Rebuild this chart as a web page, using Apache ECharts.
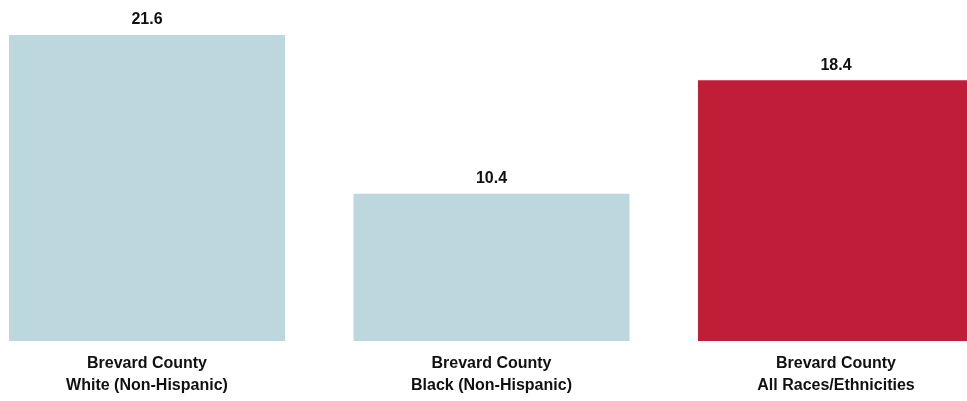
<!DOCTYPE html>
<html>
<head>
<meta charset="utf-8">
<script src="https://cdn.jsdelivr.net/npm/echarts@6/dist/echarts.min.js"></script>
<style>
  html, body { margin: 0; padding: 0; background: #ffffff; }
  #chart { width: 967px; height: 401px; }
</style>
</head>
<body>
<div id="chart"></div>
<script>
// Category labels and rates for each group
const categories = [
  'Brevard County\nWhite (Non-Hispanic)',
  'Brevard County\nBlack (Non-Hispanic)',
  'Brevard County\nAll Races/Ethnicities'
];
const values = [21.6, 10.4, 18.4];
const barColors = ['#BDD7DE', '#BDD7DE', '#C01D39'];

const FONT = '"Liberation Sans", Arial, sans-serif';

const chart = echarts.init(document.getElementById('chart'), null, { renderer: 'canvas' });

// Ticks sit on the bar centres (boundaryGap off); bars are wide and not clipped to the grid
chart.setOption({
  animation: false,
  backgroundColor: '#ffffff',
  grid: { left: 147, right: 131, top: 1, bottom: 60, containLabel: false },
  xAxis: {
    type: 'category',
    data: categories,
    boundaryGap: false,
    axisLine: { show: false },
    axisTick: { show: false },
    splitLine: { show: false },
    axisLabel: {
      interval: 0,
      margin: 12,
      color: '#111111',
      fontFamily: FONT,
      fontWeight: 'bold',
      fontSize: 16,
      lineHeight: 22,
      align: 'center'
    }
  },
  yAxis: {
    type: 'value',
    min: 0,
    max: 24,
    show: false,
    splitLine: { show: false }
  },
  series: [{
    type: 'bar',
    barWidth: 276,
    clip: false,
    data: values.map((v, i) => ({ value: v, itemStyle: { color: barColors[i] } })),
    label: {
      show: true,
      position: 'top',
      distance: 7,
      color: '#111111',
      fontFamily: FONT,
      fontWeight: 'bold',
      fontSize: 16,
      formatter: p => p.value.toFixed(1)
    }
  }]
});
</script>
</body>
</html>
